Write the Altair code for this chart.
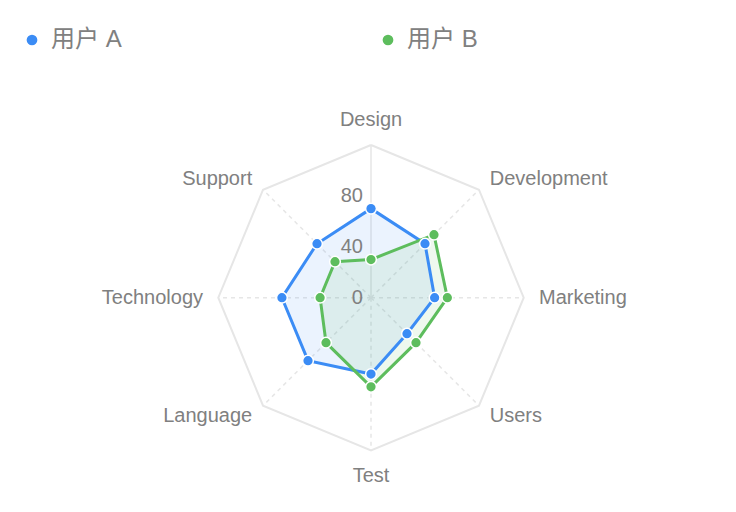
import altair as alt
import pandas as pd

# ---------------- data ----------------
categories = ["Design", "Development", "Marketing", "Users",
              "Test", "Language", "Technology", "Support"]
user_a = [70, 60, 50, 40, 60, 70, 70, 60]
user_b = [30, 70, 60, 50, 70, 50, 40, 40]
series = ["用户 A", "用户 B"]
colors = ["#3b8cf5", "#5dbd5d"]
tick_values = [0, 40, 80]
max_value = 120

# ------------- build tables -------------
n = len(categories)
rows = []
for name, vals in zip(series, [user_a, user_b]):
    for i in range(n + 1):
        rows.append({"user": name, "category": categories[i % n],
                     "idx": i, "value": vals[i % n]})
df = pd.DataFrame(rows)

grid_rows = [{"category": categories[i % n], "idx": i, "value": max_value}
             for i in range(n + 1)]
grid_df = pd.DataFrame(grid_rows)

tick_df = pd.DataFrame({"value": tick_values, "label": [str(t) for t in tick_values]})

# ------------- scales -------------
k = 152.7 / max_value          # pixels per unit
cx, cy = 371.0, 297.7          # centre in pixels
W, H = 736, 512
xs = alt.Scale(domain=[-cx / k, (W - cx) / k], nice=False, zero=False)
ys = alt.Scale(domain=[-(H - cy) / k, cy / k], nice=False, zero=False)

FONT = "Liberation Sans, Helvetica, Arial, Noto Sans CJK SC, sans-serif"
LABEL_COLOR = "#808080"
GRID_COLOR = "#e6e6e6"

ang = "datum.idx * 2 * PI / %d" % n


def polar_base(data, radius_expr="datum.value"):
    return alt.Chart(data).transform_calculate(
        ang=ang
    ).transform_calculate(
        px="(" + radius_expr + ") * sin(datum.ang)",
        py="(" + radius_expr + ") * cos(datum.ang)",
    )


X = alt.X("px:Q", scale=xs, axis=None)
Y = alt.Y("py:Q", scale=ys, axis=None)

color_enc = alt.Color(
    "user:N",
    scale=alt.Scale(domain=series, range=colors),
    legend=alt.Legend(
        title=None, orient="none", direction="horizontal",
        legendX=20, legendY=28,
        symbolType="circle", symbolSize=115, symbolStrokeWidth=0,
        symbolOpacity=1,
        labelFontSize=24, labelColor=LABEL_COLOR, labelFont=FONT,
        labelOffset=7, columnPadding=254,
    ),
)

# outer octagon
outer = polar_base(grid_df).mark_line(
    color=GRID_COLOR, strokeWidth=2
).encode(x=X, y=Y, order="idx:Q")

# spokes
spoke_base = alt.Chart(grid_df).transform_filter("datum.idx < %d" % n).transform_calculate(
    ang=ang
).transform_calculate(
    px="datum.value * sin(datum.ang)",
    py="datum.value * cos(datum.ang)",
    ox="0", oy="0",
)
spokes_dashed = spoke_base.transform_filter("datum.idx > 0").mark_rule(
    color=GRID_COLOR, strokeWidth=1.5, strokeDash=[4, 4]
).encode(x=alt.X("ox:Q", scale=xs, axis=None), y=alt.Y("oy:Q", scale=ys, axis=None),
         x2="px:Q", y2="py:Q")
spoke_solid = spoke_base.transform_filter("datum.idx == 0").mark_rule(
    color=GRID_COLOR, strokeWidth=1.5
).encode(x=alt.X("ox:Q", scale=xs, axis=None), y=alt.Y("oy:Q", scale=ys, axis=None),
         x2="px:Q", y2="py:Q")

# filled areas
areas = polar_base(df).mark_line(
    filled=True, fillOpacity=0.1, strokeWidth=0
).encode(x=X, y=Y, order="idx:Q", color=color_enc, detail="user:N")

# lines
lines = polar_base(df).mark_line(strokeWidth=3).encode(
    x=X, y=Y, order="idx:Q", color=color_enc, detail="user:N")

# points
points = polar_base(df).transform_filter("datum.idx < %d" % n).mark_point(
    filled=True, size=115, opacity=1, stroke="white", strokeWidth=1.5
).encode(x=X, y=Y, color=color_enc)

# category labels
lab_r = str(max_value * 1.1)
lab_base = polar_base(grid_df.iloc[:n], lab_r)
txt = dict(font=FONT, fontSize=20, color=LABEL_COLOR)
lab_top = lab_base.transform_filter("datum.idx == 0").mark_text(
    align="center", baseline="bottom", **txt).encode(x=X, y=Y, text="category:N")
lab_bottom = lab_base.transform_filter("datum.idx == 4").mark_text(
    align="center", baseline="top", **txt).encode(x=X, y=Y, text="category:N")
lab_right = lab_base.transform_filter("datum.idx > 0 && datum.idx < 4").mark_text(
    align="left", baseline="middle", **txt).encode(x=X, y=Y, text="category:N")
lab_left = lab_base.transform_filter("datum.idx > 4").mark_text(
    align="right", baseline="middle", **txt).encode(x=X, y=Y, text="category:N")

# radial tick labels
ticks = alt.Chart(tick_df).transform_calculate(
    px="-6.3", py="datum.value"
).mark_text(align="right", baseline="middle", **txt).encode(
    x=X, y=Y, text="label:N")

chart = alt.layer(
    outer, spokes_dashed, spoke_solid, areas, lines, points,
    lab_top, lab_bottom, lab_right, lab_left, ticks
).properties(
    width=W, height=H, padding=0,
    autosize=alt.AutoSizeParams(type="none"),
    background="white",
).configure_view(stroke=None)

chart.save("out.html", embed_options={"renderer": "svg", "actions": False})
